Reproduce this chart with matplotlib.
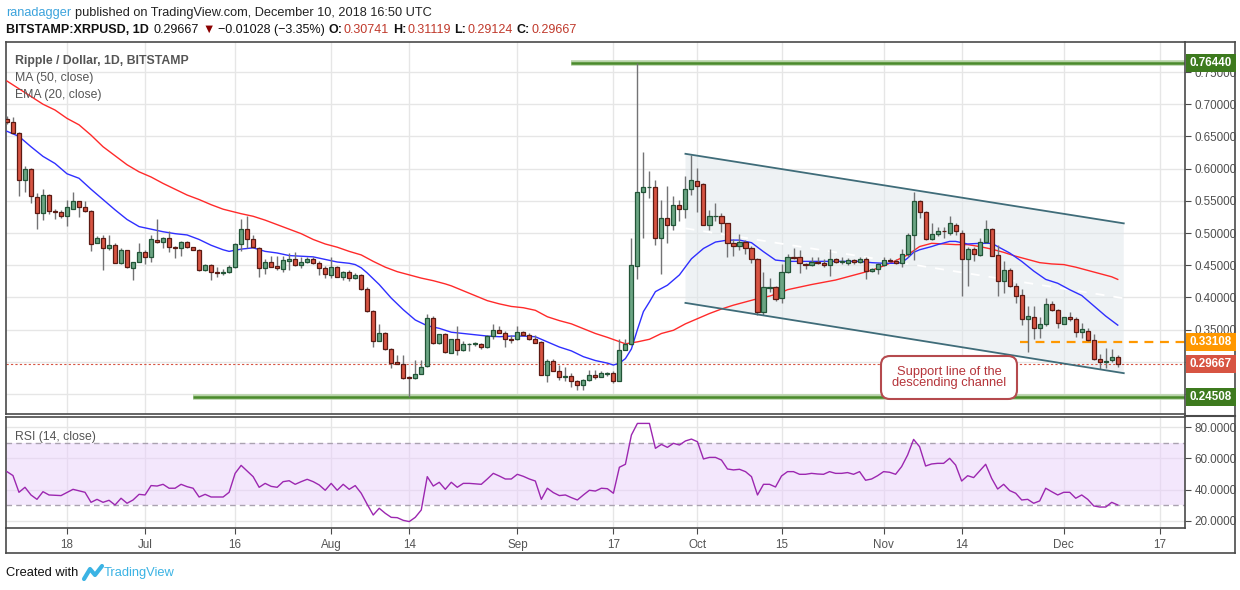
import matplotlib
matplotlib.use('Agg')
import matplotlib.pyplot as plt
import matplotlib.transforms as mtransforms
from matplotlib.patches import Rectangle, FancyBboxPatch, Polygon
from matplotlib.lines import Line2D
import pandas as pd

plt.rcParams['font.family'] = ['Liberation Sans', 'DejaVu Sans']

# ---------------- data ----------------
start_date = '2018-06-08'
opens = [0.677,0.673,0.656,0.583,0.600,0.556,0.531,0.559,0.534,0.532,
         0.527,0.538,0.549,0.540,0.534,0.485,0.493,0.476,0.482,0.454,
         0.473,0.446,0.455,0.470,0.463,0.489,0.486,0.493,0.479,0.477,
         0.486,0.478,0.474,0.442,0.451,0.439,0.438,0.440,0.448,0.483,
         0.506,0.490,0.477,0.446,0.455,0.449,0.444,0.456,0.460,0.450,
         0.455,0.459,0.453,0.446,0.435,0.448,0.432,0.440,0.430,0.435,
         0.413,0.379,0.333,0.345,0.320,0.299,0.297,0.277,0.275,0.281,
         0.293,0.368,0.329,0.343,0.314,0.335,0.318,0.327,0.327,0.328,
         0.323,0.340,0.350,0.345,0.335,0.335,0.346,0.342,0.335,0.331,
         0.279,0.302,0.286,0.276,0.278,0.270,0.264,0.272,0.280,0.276,
         0.281,0.282,0.271,0.319,0.327,0.449,0.563,0.571,0.571,0.492,
         0.524,0.513,0.544,0.538,0.568,0.581,0.576,0.513,0.526,0.526,
         0.515,0.484,0.480,0.486,0.477,0.460,0.377,0.415,0.416,0.399,
         0.440,0.463,0.462,0.452,0.450,0.455,0.453,0.451,0.459,0.455,
         0.454,0.458,0.455,0.459,0.441,0.444,0.450,0.458,0.457,0.453,
         0.467,0.497,0.549,0.533,0.490,0.498,0.503,0.500,0.513,0.500,
         0.460,0.475,0.466,0.486,0.507,0.466,0.425,0.443,0.417,0.404,
         0.366,0.370,0.353,0.358,0.390,0.380,0.359,0.369,0.367,0.346,
         0.348,0.334,0.305,0.300,0.303,0.30741]
highs = [0.682,0.680,0.657,0.604,0.601,0.562,0.569,0.561,0.538,0.535,
         0.551,0.564,0.550,0.549,0.535,0.496,0.497,0.497,0.484,0.476,
         0.474,0.455,0.484,0.473,0.497,0.521,0.494,0.503,0.480,0.488,
         0.487,0.479,0.475,0.452,0.452,0.448,0.444,0.451,0.484,0.521,
         0.526,0.497,0.478,0.459,0.465,0.464,0.465,0.469,0.471,0.462,
         0.462,0.462,0.456,0.449,0.463,0.449,0.441,0.442,0.438,0.437,
         0.416,0.381,0.359,0.346,0.322,0.310,0.310,0.278,0.303,0.303,
         0.375,0.371,0.343,0.344,0.336,0.355,0.332,0.329,0.331,0.330,
         0.341,0.358,0.355,0.348,0.341,0.355,0.348,0.344,0.341,0.333,
         0.305,0.304,0.295,0.292,0.283,0.272,0.273,0.287,0.287,0.285,
         0.284,0.286,0.335,0.335,0.493,0.764,0.626,0.596,0.582,0.551,
         0.573,0.557,0.552,0.588,0.621,0.601,0.577,0.536,0.546,0.531,
         0.516,0.491,0.498,0.489,0.480,0.461,0.440,0.430,0.418,0.452,
         0.468,0.476,0.474,0.453,0.463,0.463,0.460,0.475,0.461,0.462,
         0.461,0.459,0.462,0.462,0.446,0.453,0.462,0.461,0.459,0.475,
         0.500,0.564,0.552,0.534,0.516,0.510,0.510,0.526,0.516,0.504,
         0.479,0.479,0.493,0.520,0.508,0.482,0.456,0.445,0.422,0.413,
         0.386,0.387,0.370,0.399,0.394,0.382,0.370,0.377,0.370,0.361,
         0.352,0.343,0.312,0.321,0.320,0.31119]
lows = [0.670,0.655,0.557,0.563,0.546,0.506,0.520,0.529,0.522,0.523,
        0.511,0.537,0.525,0.532,0.472,0.484,0.443,0.473,0.453,0.452,
        0.446,0.427,0.455,0.452,0.455,0.484,0.476,0.470,0.461,0.465,
        0.477,0.473,0.441,0.441,0.427,0.432,0.435,0.438,0.446,0.472,
        0.477,0.476,0.432,0.437,0.447,0.443,0.439,0.442,0.449,0.445,
        0.454,0.452,0.435,0.430,0.430,0.431,0.427,0.426,0.429,0.412,
        0.378,0.323,0.333,0.319,0.291,0.297,0.274,0.246,0.274,0.281,
        0.292,0.328,0.328,0.313,0.313,0.310,0.317,0.317,0.324,0.320,
        0.322,0.336,0.344,0.323,0.329,0.334,0.341,0.334,0.330,0.279,
        0.269,0.285,0.272,0.271,0.261,0.256,0.256,0.271,0.274,0.276,
        0.278,0.267,0.270,0.318,0.326,0.428,0.492,0.555,0.482,0.437,
        0.485,0.505,0.518,0.523,0.559,0.532,0.512,0.505,0.518,0.502,
        0.462,0.465,0.474,0.467,0.453,0.373,0.373,0.408,0.394,0.391,
        0.438,0.459,0.438,0.444,0.449,0.452,0.447,0.434,0.454,0.452,
        0.451,0.452,0.454,0.428,0.439,0.437,0.449,0.455,0.452,0.448,
        0.463,0.458,0.523,0.489,0.489,0.496,0.493,0.497,0.497,0.402,
        0.417,0.457,0.464,0.485,0.465,0.402,0.407,0.416,0.391,0.357,
        0.315,0.335,0.337,0.356,0.379,0.352,0.358,0.363,0.338,0.337,
        0.333,0.303,0.289,0.291,0.299,0.29124]
closes = [0.672,0.656,0.583,0.599,0.557,0.531,0.559,0.534,0.532,0.527,
          0.540,0.549,0.540,0.534,0.483,0.493,0.476,0.482,0.454,0.473,
          0.447,0.455,0.470,0.463,0.490,0.486,0.493,0.478,0.476,0.486,
          0.478,0.474,0.442,0.450,0.440,0.438,0.440,0.448,0.483,0.506,
          0.491,0.478,0.446,0.455,0.448,0.445,0.458,0.460,0.450,0.455,
          0.459,0.453,0.445,0.436,0.448,0.432,0.440,0.430,0.435,0.413,
          0.379,0.333,0.345,0.320,0.298,0.297,0.275,0.275,0.281,0.292,
          0.368,0.329,0.343,0.315,0.335,0.318,0.327,0.328,0.329,0.323,
          0.340,0.350,0.345,0.335,0.334,0.346,0.342,0.335,0.330,0.279,
          0.302,0.286,0.276,0.278,0.270,0.264,0.272,0.279,0.277,0.282,
          0.283,0.271,0.319,0.327,0.450,0.563,0.571,0.5712,0.492,0.524,
          0.513,0.544,0.538,0.568,0.582,0.573,0.513,0.526,0.5262,0.515,
          0.485,0.480,0.486,0.477,0.460,0.377,0.416,0.416,0.398,0.440,
          0.463,0.461,0.453,0.450,0.455,0.453,0.451,0.459,0.455,0.456,
          0.458,0.455,0.459,0.441,0.444,0.452,0.458,0.456,0.453,0.467,
          0.497,0.549,0.533,0.490,0.498,0.503,0.5025,0.515,0.503,0.460,
          0.475,0.467,0.486,0.506,0.465,0.425,0.442,0.417,0.402,0.367,
          0.371,0.353,0.358,0.390,0.380,0.361,0.369,0.367,0.346,0.351,
          0.334,0.304,0.300,0.301,0.308,0.29667]

ma50_idx = [0,3,5,6,8,10,12,14,16,18,20,22,24,26,28,30,32,34,36,39,41,43,45,47,
            49,51,53,55,57,59,61,63,65,67,69,71,73,74,80,82,84,86,88,90,92,94,96,
            98,100,103,105,107,109,111,113,115,117,119,121,123,125,127,129,130,134,
            138,142,144,146,148,150,152,154,156,158,160,162,164,166,168,170,172,174,
            176,178,180,182,184,185]
ma50_val = [0.736,0.718,0.706,0.700,0.691,0.678,0.668,0.652,0.634,0.620,0.606,0.595,
            0.587,0.577,0.568,0.559,0.552,0.544,0.537,0.530,0.526,0.520,0.513,0.506,
            0.499,0.490,0.483,0.478,0.4715,0.466,0.456,0.447,0.440,0.435,0.430,0.426,
            0.421,0.418,0.395,0.390,0.386,0.384,0.380,0.370,0.364,0.359,0.3515,0.344,
            0.338,0.328,0.331,0.335,0.344,0.349,0.359,0.367,0.375,0.382,0.388,0.393,
            0.398,0.402,0.408,0.412,0.420,0.427,0.437,0.442,0.449,0.457,0.466,0.479,
            0.484,0.483,0.482,0.482,0.479,0.475,0.470,0.464,0.459,0.454,0.452,0.451,
            0.447,0.442,0.437,0.432,0.428]

ema20_idx = [0,2,4,6,8,10,12,14,16,18,20,22,24,26,28,30,32,34,36,37,39,41,43,45,47,
             49,51,53,55,57,58,59,60,62,64,66,68,70,72,74,76,78,80,82,84,86,88,90,92,
             94,96,98,100,101,102,103,104,105,106,107,108,110,112,114,116,118,120,122,
             124,126,128,130,142,144,146,148,149,150,151,152,154,155,157,158,160,162,
             164,165,167,169,171,173,175,177,179,181,183,185]
ema20_val = [0.658,0.650,0.634,0.619,0.608,0.592,0.585,0.568,0.552,0.536,0.521,0.510,
             0.506,0.502,0.499,0.497,0.490,0.481,0.474,0.4715,0.475,0.477,0.4715,0.469,
             0.465,0.464,0.463,0.459,0.455,0.453,0.451,0.446,0.438,0.420,0.399,0.381,
             0.365,0.356,0.352,0.346,0.344,0.342,0.340,0.339,0.340,0.340,0.339,0.331,
             0.323,0.317,0.308,0.302,0.298,0.295,0.298,0.305,0.320,0.350,0.378,0.393,
             0.409,0.419,0.435,0.460,0.476,0.486,0.489,0.489,0.485,0.471,0.458,0.456,
             0.456,0.454,0.453,0.453,0.454,0.461,0.470,0.474,0.479,0.482,0.487,0.487,
             0.483,0.484,0.484,0.479,0.469,0.456,0.441,0.428,0.422,0.412,0.403,0.387,
             0.371,0.357]

rsi_idx = [0,1,2,3,4,5,6,7,9,11,13,14,15,16,17,18,19,20,21,22,23,24,25,26,27,28,29,
           30,31,32,33,34,36,37,38,39,40,41,42,43,44,45,46,47,48,49,50,51,52,53,54,
           55,56,57,58,59,60,61,62,63,64,65,66,67,68,69,70,71,72,73,74,75,76,77,79,
           80,81,82,83,84,85,86,87,88,89,90,91,92,93,94,95,96,97,98,99,100,101,102,
           103,104,105,106,107,108,109,110,111,112,113,114,115,116,117,118,119,120,
           121,122,123,124,125,126,127,128,129,130,131,132,133,134,135,136,137,138,
           139,140,141,142,143,144,145,146,147,148,149,150,151,152,153,154,155,156,
           157,158,159,160,161,162,163,164,165,166,167,168,169,170,171,172,173,174,
           175,176,177,178,179,180,181,182,183,184,185]
rsi_val = [51.5,49,38.3,41.5,36.6,33.8,38.7,36.6,36.2,40.2,38.3,31.9,33.8,31.9,33.2,
           30.2,34.5,31.3,33.4,37,36.6,42.6,42.3,43.4,40.9,40.9,43.4,41.9,40.9,35.3,
           37,35.3,35.3,38.3,50.4,55.5,51.9,48.3,41.5,44,42.1,41.5,45.1,45.7,43.4,
           45.1,46.6,45.1,43,39.6,44,39.6,43.4,40.2,42.6,37.7,30.6,23.8,28.1,24.9,
           22.3,22.1,20.4,19.6,22.3,27,48.3,42.3,44.7,40.2,44.7,41.5,44,44,43.4,46.8,
           50.4,48.7,46.8,46.8,49.8,48.5,46.8,45.5,33.8,40.9,38.1,36.2,36.6,34.9,
           33.4,36.6,39.6,39.1,40.9,40.6,37.7,54.3,56.2,74.9,82.3,82.3,82.3,66.4,
           68.9,67,69.6,68.5,71.1,72.3,70.6,59.6,60.6,60.6,58.9,53.2,52.6,53,51.5,
           48.3,36.6,43.4,43.4,41.7,48.7,51.5,51.5,49.8,49.8,50.4,50,49.8,51.5,50.4,
           50.4,50.9,49.8,51.5,46,46.8,48.9,51.5,51.1,49.8,54.7,62.1,72.1,67.4,55.1,
           56.4,56.8,56.8,60,55.7,45.5,48.9,47.7,51.9,56.2,47.2,40.4,43.4,39.4,37.7,
           33.4,33.8,31.3,32.8,40.9,38.7,36.6,38.3,38.3,34.5,36.6,33.8,29.6,28.9,
           28.9,31.9,30.2]

channel_idx = [113, 186]
channel_upper = [0.623, 0.515]
channel_lower = [0.3915, 0.2824]

resistance_level, resistance_start = 0.7644, 94
support_level, support_start = 0.24508, 31
marked_level, marked_start = 0.33108, 168.7
last_price = 0.29667

price_ticks = [0.25, 0.30, 0.35, 0.40, 0.45, 0.50, 0.55, 0.60, 0.65, 0.70, 0.75]
hidden_price_labels = [0.25, 0.30]
rsi_ticks = [20, 40, 60, 80]
tick_dates = ['2018-06-18', '2018-07-01', '2018-07-16', '2018-08-01', '2018-08-14',
              '2018-09-01', '2018-09-17', '2018-10-01', '2018-10-15', '2018-11-01',
              '2018-11-14', '2018-12-01', '2018-12-17']
tick_labels = ['18', 'Jul', '16', 'Aug', '14', 'Sep', '17', 'Oct', '15', 'Nov', '14', 'Dec', '17']

# ---------------- figure ----------------
W, H = 1240, 590
fig = plt.figure(figsize=(W / 100, H / 100), dpi=100)
fig.patch.set_facecolor('white')
PX = mtransforms.Affine2D().scale(1.0 / W, -1.0 / H).translate(0, 1) + fig.transFigure
renderer = fig.canvas.get_renderer()

def rect(x0, y0, x1, y1):
    return [x0 / W, 1 - y1 / H, (x1 - x0) / W, (y1 - y0) / H]

ax = fig.add_axes(rect(6, 42, 1185, 414))
ax2 = fig.add_axes(rect(6, 417, 1185, 528))

start = pd.Timestamp(start_date)
tick_pos = [(pd.Timestamp(d) - start).days for d in tick_dates]

AX_COL = '#4a4a4a'
GRID = '#e6e6e6'
UP_F, UP_E = '#6ba583', '#225437'
DN_F, DN_E = '#d75442', '#5b1a13'

for a in (ax, ax2):
    a.set_xlim(-0.16, 196.2)
    a.set_facecolor('white')
    for s in a.spines.values():
        s.set_color(AX_COL)
        s.set_linewidth(1.2)
    a.set_xticks(tick_pos)
    a.grid(True, color=GRID, lw=1)
    a.set_axisbelow(True)
    a.yaxis.tick_right()
    a.tick_params(axis='y', length=4, color=AX_COL, labelcolor='#4f4f4f',
                  labelsize=8.4, pad=3)

ax.set_ylim(0.2190, 0.7966)
ax.set_yticks(price_ticks)
ax.set_yticklabels(['' if t in hidden_price_labels else '%.5f' % t for t in price_ticks])
ax.tick_params(axis='x', length=0, labelbottom=False)

# channel fill
n = len(closes)
cx = channel_idx
ax.add_patch(Polygon([(cx[0], channel_upper[0]), (cx[1], channel_upper[1]),
                      (cx[1], channel_lower[1]), (cx[0], channel_lower[0])],
                     closed=True, facecolor='#dfe7eb', alpha=0.5, edgecolor='none', zorder=1))
ax.plot(cx, [(u + l) / 2 for u, l in zip(channel_upper, channel_lower)],
        color='white', lw=1.3, ls=(0, (5, 5)), zorder=1.5)

# horizontal levels
xr = 196.2
for lvl, st in ((resistance_level, resistance_start), (support_level, support_start)):
    ax.plot([st, xr], [lvl, lvl], color='#b7d3a8', lw=4, zorder=2, solid_capstyle='butt')
    ax.plot([st, xr], [lvl, lvl], color='#4a8a2c', lw=1.8, zorder=2.1, solid_capstyle='butt')
ax.plot([marked_start, xr], [marked_level, marked_level], color='#ff9800', lw=1.6,
        ls=(0, (4, 3)), zorder=2)
ax.axhline(last_price, color='#d75442', lw=0.8, ls=(0, (2, 2)), zorder=2)

# moving averages
ax.plot(ma50_idx, ma50_val, color='#ff2a2a', lw=1.0, zorder=3)
ax.plot(ema20_idx, ema20_val, color='#2f2fff', lw=1.0, zorder=3)

# candles
bw = 0.68
for i in range(n):
    o, h, l, c = opens[i], highs[i], lows[i], closes[i]
    up = c >= o
    ax.plot([i, i], [l, h], color='#737375', lw=1.0, zorder=4, solid_capstyle='butt')
    bot, top = min(o, c), max(o, c)
    ht = max(top - bot, 0.0012)
    ax.add_patch(Rectangle((i - bw / 2, bot), bw, ht,
                           facecolor=UP_F if up else DN_F,
                           edgecolor=UP_E if up else DN_E, lw=0.9, zorder=5))

# channel lines
ax.plot(cx, channel_upper, color='#3f6c79', lw=1.3, zorder=6)
ax.plot(cx, channel_lower, color='#3f6c79', lw=1.3, zorder=6)

# RSI pane
ax2.set_ylim(15.5, 86.4)
ax2.set_yticks(rsi_ticks)
ax2.set_yticklabels(['%.4f' % t for t in rsi_ticks])
ax2.axhspan(30, 70, facecolor='#e9d0fb', alpha=0.5, edgecolor='none', zorder=1)
ax2.axhline(70, color='#aaa2b0', lw=1, ls=(0, (4, 3)), zorder=1.5)
ax2.axhline(30, color='#aaa2b0', lw=1, ls=(0, (4, 3)), zorder=1.5)
ax2.plot(rsi_idx, rsi_val, color='#9c27b0', lw=1.0, zorder=3)
ax2.set_xticklabels(tick_labels)
ax2.tick_params(axis='x', length=4, color=AX_COL, labelcolor='#555555',
                labelsize=8.4, pad=4)

# ---------------- frame lines ----------------
def fline(x0, y0, x1, y1, lw=1.2, color=AX_COL):
    fig.add_artist(Line2D([x0, x1], [y0, y1], transform=PX, color=color, lw=lw))

fline(1185, 42, 1235, 42)
fline(1235, 42, 1235, 553)
fline(6, 553, 1235, 553)
fline(6, 528, 6, 553)
fline(1185, 415.5, 1235, 415.5, lw=1.5)

# ---------------- price labels on axis ----------------
def ypx(p):
    disp = ax.transData.transform((0, p))[1]
    return H - disp

for lvl, col in ((resistance_level, '#3d7a1e'), (marked_level, '#ff9800'),
                 (last_price, '#d75442'), (support_level, '#3d7a1e')):
    yc = ypx(lvl)
    fig.add_artist(Rectangle((1186, yc - 9), 50, 18, transform=PX,
                             facecolor=col, edgecolor='none', zorder=5))
    fig.text(1211 / W, 1 - yc / H, '%.5f' % lvl, color='white', fontsize=8.4,
             fontweight='bold', ha='center', va='center', zorder=6)

# ---------------- annotation ----------------
fig.add_artist(FancyBboxPatch((886, 361), 126, 33, transform=PX,
                              boxstyle='round,pad=5,rounding_size=9',
                              facecolor='white', edgecolor='#b54a4e', lw=1.5, zorder=4))
fig.text(949 / W, 1 - 377.5 / H, 'Support line of the\ndescending channel',
         color='#b5343a', fontsize=9.3, ha='center', va='center', linespacing=0.95,
         zorder=5)

# ---------------- legends in panes ----------------
fig.text(15 / W, 1 - 61 / H, 'Ripple / Dollar, 1D, BITSTAMP', color='#555555',
         fontsize=8.8, fontweight='bold', va='center')
fig.text(15 / W, 1 - 78 / H, 'MA (50, close)', color='#555555', fontsize=8.8, va='center')
fig.text(15 / W, 1 - 95 / H, 'EMA (20, close)', color='#555555', fontsize=8.8, va='center')
fig.text(15 / W, 1 - 437 / H, 'RSI (14, close)', color='#555555', fontsize=8.8, va='center')

# ---------------- header (laid out piece by piece) ----------------
def seq_text(pieces, x0, ycen, size):
    x = x0
    for txt, col, wt, gap in pieces:
        t = fig.text(x / W, 1 - ycen / H, txt, color=col, fontsize=size,
                     fontweight=wt, va='center', ha='left')
        bb = t.get_window_extent(renderer=renderer)
        x += bb.width + gap

seq_text([('ranadagger', '#3ca3dc', 'normal', 3.5),
          ('published on TradingView.com, December 10, 2018 16:50 UTC', '#222222', 'normal', 0)],
         6, 13, 9.2)
seq_text([('BITSTAMP:XRPUSD, 1D', '#111111', 'bold', 5),
          ('0.29667', '#111111', 'normal', 3),
          ('\u25bc', '#8b0000', 'normal', 3),
          ('\u22120.01028 (\u22123.35%)', '#111111', 'normal', 4),
          ('O:', '#111111', 'bold', 1),
          ('0.30741', '#c0392b', 'normal', 4),
          ('H:', '#111111', 'bold', 1),
          ('0.31119', '#c0392b', 'normal', 4),
          ('L:', '#111111', 'bold', 1),
          ('0.29124', '#c0392b', 'normal', 4),
          ('C:', '#111111', 'bold', 1),
          ('0.29667', '#c0392b', 'normal', 0)],
         6, 30, 9.0)

# ---------------- footer ----------------
fig.text(6 / W, 1 - 573 / H, 'Created with', color='#111111', fontsize=9.3, va='center')
fig.add_artist(Line2D([84, 90, 95, 102], [579, 569, 575, 566], transform=PX,
                      color='#3bb3e4', lw=3, solid_joinstyle='round', solid_capstyle='round'))
fig.text(104 / W, 1 - 573 / H, 'TradingView', color='#3bb3e4', fontsize=9.3, va='center')

fig.savefig('out.png', dpi=100)
